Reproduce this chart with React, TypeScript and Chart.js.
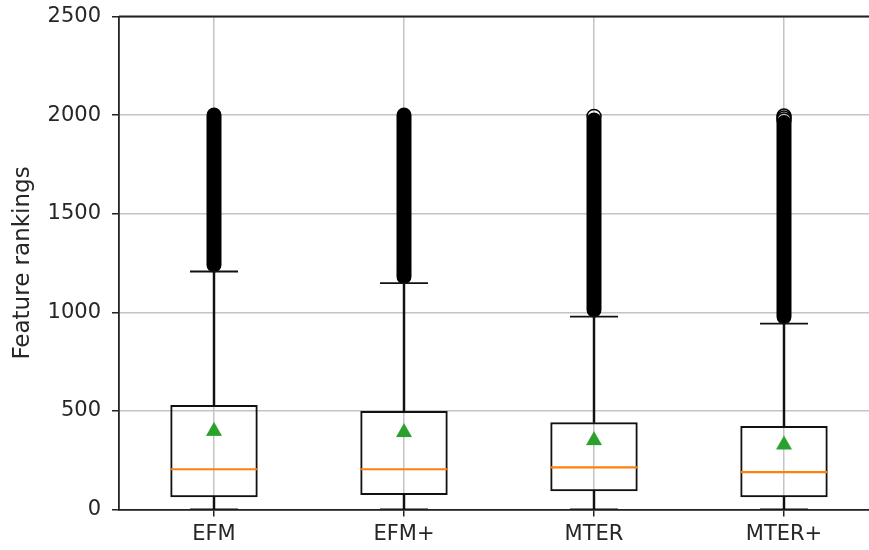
import React, { useEffect, useRef } from 'react';
import { Chart, registerables } from 'chart.js';

Chart.register(...registerables);

const categories = ['EFM', 'EFM+', 'MTER', 'MTER+'];
const whiskerLow = [1, 1, 1, 1];
const q1 = [62, 74, 92, 62];
const median = [204, 204, 214, 190];
const q3 = [530, 500, 442, 424];
const mean = [409, 403, 362, 340];
const whiskerHigh = [1207, 1148, 978, 943];
const outlierLow = [1240, 1180, 1012, 977];
const outlierHigh = [2000, 2000, 1975, 1962];
const sparseOutliers: number[][] = [[], [], [1993], [1995, 1985, 1975]];
const yTicks = [0, 500, 1000, 1500, 2000, 2500];

const FONT = 'DejaVu Sans';
const TEXT = '#262626';
const AXIS = '#222222';
const GRID = '#c4c4c4';

const framePlugin = {
  id: 'frame',
  afterDatasetsDraw(chart: any) {
    const { ctx, chartArea } = chart;
    ctx.save();
    ctx.strokeStyle = AXIS;
    ctx.lineWidth = 1.8;
    ctx.beginPath();
    ctx.moveTo(chartArea.left, chartArea.top);
    ctx.lineTo(chartArea.right, chartArea.top);
    ctx.lineTo(chartArea.right, chartArea.bottom);
    ctx.stroke();
    ctx.restore();
  },
};

export default function App() {
  const ref = useRef<HTMLCanvasElement | null>(null);

  useEffect(() => {
    const canvas = ref.current;
    if (!canvas) return;

    // bbox-centred triangle marker like matplotlib '^'
    const tri = document.createElement('canvas');
    tri.width = 18;
    tri.height = 16;
    const tc = tri.getContext('2d')!;
    tc.fillStyle = '#2ca02c';
    tc.beginPath();
    tc.moveTo(9, 1);
    tc.lineTo(17, 15);
    tc.lineTo(1, 15);
    tc.closePath();
    tc.fill();

    const outlierPts: any[] = [];
    categories.forEach((c, i) => {
      outlierPts.push({ x: c, y: outlierLow[i] }, { x: c, y: outlierHigh[i] }, { x: c, y: null });
    });
    const sparsePts: any[] = [];
    categories.forEach((c, i) => sparseOutliers[i].forEach((v) => sparsePts.push({ x: c, y: v })));

    const chart = new Chart(canvas, {
      type: 'bar',
      data: {
        labels: categories,
        datasets: [
          {
            type: 'line',
            label: 'outliers',
            data: outlierPts,
            borderColor: '#000',
            borderWidth: 15,
            borderCapStyle: 'round',
            pointRadius: 0,
            spanGaps: false,
            order: 7,
          } as any,
          {
            type: 'line',
            label: 'sparse outliers',
            data: sparsePts,
            showLine: false,
            pointStyle: 'circle',
            pointRadius: 7,
            pointBorderWidth: 1.5,
            pointBorderColor: '#000',
            pointBackgroundColor: 'rgba(0,0,0,0)',
            order: 6,
          } as any,
          {
            type: 'bar',
            label: 'lower whisker',
            data: categories.map((_, i) => [whiskerLow[i], q1[i]]),
            backgroundColor: '#111',
            borderWidth: 0,
            barThickness: 1.8,
            grouped: false,
            order: 5,
          } as any,
          {
            type: 'bar',
            label: 'upper whisker',
            data: categories.map((_, i) => [q3[i], whiskerHigh[i]]),
            backgroundColor: '#111',
            borderWidth: 0,
            barThickness: 1.8,
            grouped: false,
            order: 5,
          } as any,
          {
            type: 'bar',
            label: 'box',
            data: categories.map((_, i) => [q1[i], q3[i]]),
            backgroundColor: 'rgba(0,0,0,0)',
            borderColor: '#111',
            borderWidth: 2,
            borderSkipped: false,
            barPercentage: 0.46,
            categoryPercentage: 1,
            grouped: false,
            order: 4,
          } as any,
          {
            type: 'line',
            label: 'caps high',
            data: whiskerHigh,
            showLine: false,
            pointStyle: 'line',
            pointRadius: 24,
            pointBorderWidth: 1.8,
            pointBorderColor: '#111',
            order: 3,
          } as any,
          {
            type: 'line',
            label: 'caps low',
            data: whiskerLow,
            showLine: false,
            pointStyle: 'line',
            pointRadius: 24,
            pointBorderWidth: 1.8,
            pointBorderColor: '#111',
            order: 3,
          } as any,
          {
            type: 'line',
            label: 'median',
            data: median,
            showLine: false,
            pointStyle: 'line',
            pointRadius: 43.5,
            pointBorderWidth: 2.2,
            pointBorderColor: '#ff7f0e',
            order: 2,
          } as any,
          {
            type: 'line',
            label: 'mean',
            data: mean,
            showLine: false,
            pointStyle: tri,
            pointRadius: 8,
            order: 1,
          } as any,
        ],
      },
      options: {
        animation: false,
        responsive: false,
        maintainAspectRatio: false,
        events: [],
        layout: { autoPadding: false, padding: { top: 16.5, left: 0, right: 1, bottom: 0 } },
        plugins: { legend: { display: false }, tooltip: { enabled: false } },
        scales: {
          x: {
            type: 'category',
            position: 'bottom',
            offset: true,
            grid: { offset: false, color: GRID, lineWidth: 1.5, tickColor: AXIS, tickLength: 7, tickWidth: 1.5 },
            border: { color: AXIS, width: 1.8 },
            ticks: { color: TEXT, font: { family: FONT, size: 21 }, padding: 5 },
            afterFit: (s: any) => { s.height = 40.5; s.paddingLeft = 0; s.paddingRight = 0; },
          },
          y: {
            type: 'linear',
            position: 'left',
            min: yTicks[0],
            max: yTicks[yTicks.length - 1],
            afterBuildTicks: (s: any) => { s.ticks = yTicks.map((v) => ({ value: v })); },
            grid: { color: GRID, lineWidth: 1.5, tickColor: AXIS, tickLength: 7, tickWidth: 1.5 },
            border: { color: AXIS, width: 1.8 },
            ticks: { color: TEXT, font: { family: FONT, size: 21 }, padding: 11, callback: (v: any) => String(v) },
            title: {
              display: true,
              text: 'Feature rankings',
              color: TEXT,
              font: { family: FONT, size: 23 },
              padding: { top: 9, bottom: 0 },
            },
            afterFit: (s: any) => { s.width = 119; s.paddingTop = 0; s.paddingBottom = 0; },
          },
        },
      } as any,
      plugins: [framePlugin],
    });

    return () => chart.destroy();
  }, []);

  return (
    <div style={{ position: 'absolute', left: 0, top: 0, width: 869, height: 550, overflow: 'hidden', background: '#fff' }}>
      <canvas ref={ref} width={880} height={550} style={{ display: 'block', width: 880, height: 550 }} />
    </div>
  );
}
